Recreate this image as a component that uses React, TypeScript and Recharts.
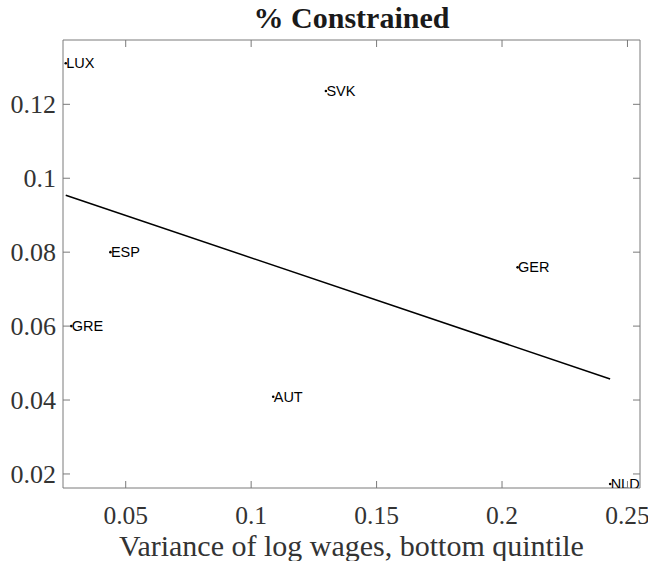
import React from "react";
import { ComposedChart, Scatter, XAxis, YAxis } from "recharts";

// country codes and values
const countries = ["LUX", "SVK", "ESP", "GRE", "AUT", "GER", "NLD"];
const varLogWage = [0.0261, 0.1298, 0.0439, 0.0283, 0.1088, 0.2062, 0.2431];
const constrained = [0.1311, 0.1236, 0.08, 0.06, 0.0409, 0.0759, 0.0173];

// fitted line endpoints
const fitX = [0.0261, 0.2431];
const fitY = [0.0954, 0.0457];

const xTicks = [0.05, 0.1, 0.15, 0.2, 0.25];
const yTicks = [0.02, 0.04, 0.06, 0.08, 0.1, 0.12];
const xDomain = [0.025, 0.255];
const yDomain = [0.0162, 0.1374];

const points = countries.map((c, i) => ({ name: c, x: varLogWage[i], y: constrained[i] }));
const fit = fitX.map((x, i) => ({ x, y: fitY[i] }));

const axisColor = "#7a7a7a";
const serif = "'Liberation Serif', 'Times New Roman', serif";
const TICK = 7;

// ticks point inward (matlab style box), so each tick draws its own mark
function BottomTick({ x, y, payload }: any) {
  const axisY = y - 18;
  return (
    <g>
      <line x1={x} y1={axisY} x2={x} y2={axisY - TICK} stroke={axisColor} />
      <text x={x} y={y} dy="0.71em" textAnchor="middle" fontFamily={serif} fontSize={25.5} fill="#333">
        {payload.value}
      </text>
    </g>
  );
}

function TopTick({ x, y }: any) {
  return <line x1={x} y1={y} x2={x} y2={y - TICK} stroke={axisColor} />;
}

function LeftTick({ x, y, payload }: any) {
  const axisX = x + 7;
  return (
    <g>
      <line x1={axisX} y1={y} x2={axisX + TICK} y2={y} stroke={axisColor} />
      <text x={x} y={y} dy="0.35em" textAnchor="end" fontFamily={serif} fontSize={26} fill="#333">
        {payload.value}
      </text>
    </g>
  );
}

function RightTick({ x, y }: any) {
  return <line x1={x} y1={y} x2={x + TICK} y2={y} stroke={axisColor} />;
}

function TitleLabel({ viewBox }: any) {
  return (
    <text
      x={viewBox.x + viewBox.width / 2}
      y={viewBox.y - 11}
      textAnchor="middle"
      fontFamily={serif}
      fontWeight="bold"
      fontSize={30}
      fill="#1a1a1a"
    >
      % Constrained
    </text>
  );
}

function XLabel({ viewBox }: any) {
  return (
    <text
      x={viewBox.x + viewBox.width / 2}
      y={viewBox.y + viewBox.height - 5}
      textAnchor="middle"
      fontFamily={serif}
      fontSize={30}
      fill="#333"
    >
      Variance of log wages, bottom quintile
    </text>
  );
}

function CountryPoint(props: any) {
  const { cx, cy, payload } = props;
  return (
    <g>
      <circle cx={cx} cy={cy} r={1.3} fill="#000" />
      <text
        x={cx + 0.5}
        y={cy}
        dy="0.35em"
        fontFamily="'Liberation Sans', Arial, sans-serif"
        fontSize={14.5}
        fill="#000"
      >
        {payload.name}
      </text>
    </g>
  );
}

export default function App() {
  return (
    <div style={{ position: "absolute", left: 0, top: 0, width: 648, height: 561, background: "#fff" }}>
      <ComposedChart width={648} height={561} margin={{ top: 39, right: 7, bottom: 0, left: 0 }}>
        <XAxis
          type="number"
          dataKey="x"
          domain={xDomain}
          ticks={xTicks}
          allowDataOverflow
          height={73}
          tickSize={-7}
          tickMargin={25}
          tickLine={false}
          stroke={axisColor}
          tick={<BottomTick />}
          label={{ content: <XLabel /> }}
        />
        <XAxis
          xAxisId="top"
          orientation="top"
          type="number"
          dataKey="x"
          domain={xDomain}
          ticks={xTicks}
          allowDataOverflow
          height={1}
          tickSize={-7}
          tickMargin={0}
          tickLine={false}
          tick={<TopTick />}
          stroke={axisColor}
          label={{ content: <TitleLabel /> }}
        />
        <YAxis
          type="number"
          dataKey="y"
          domain={yDomain}
          ticks={yTicks}
          allowDataOverflow
          width={63}
          tickSize={-7}
          tickMargin={14}
          tickLine={false}
          stroke={axisColor}
          tick={<LeftTick />}
        />
        <YAxis
          yAxisId="right"
          orientation="right"
          type="number"
          dataKey="y"
          domain={yDomain}
          ticks={yTicks}
          allowDataOverflow
          width={1}
          tickSize={-7}
          tickMargin={0}
          tickLine={false}
          tick={<RightTick />}
          stroke={axisColor}
        />
        <Scatter
          data={fit}
          line={{ stroke: "#000", strokeWidth: 1.5 }}
          shape={() => <g />}
          isAnimationActive={false}
        />
        <Scatter data={points} shape={<CountryPoint />} isAnimationActive={false} />
      </ComposedChart>
    </div>
  );
}
